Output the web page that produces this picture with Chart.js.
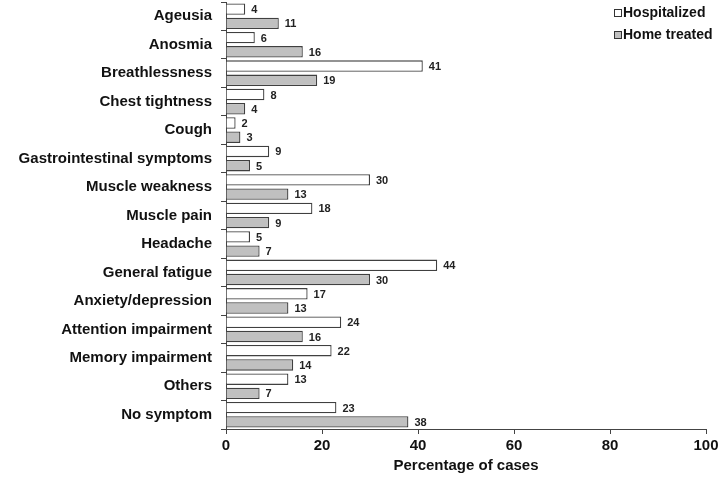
<!DOCTYPE html>
<html>
<head>
<meta charset="utf-8">
<script src="https://cdn.jsdelivr.net/npm/chart.js@4"></script>
<style>
  html, body { margin: 0; padding: 0; background: #fff; }
  #wrap { width: 722px; height: 483px; position: relative; }
</style>
</head>
<body>
<div id="wrap"><canvas id="symptomChart"></canvas></div>
<script>
// categories (top to bottom)
const symptoms = ["Ageusia", "Anosmia", "Breathlessness", "Chest tightness", "Cough",
  "Gastrointestinal symptoms", "Muscle weakness", "Muscle pain", "Headache",
  "General fatigue", "Anxiety/depression", "Attention impairment",
  "Memory impairment", "Others", "No symptom"];

// percentage of cases
const hospitalized = [4, 6, 41, 8, 2, 9, 30, 18, 5, 44, 17, 24, 22, 13, 23];
const homeTreated = [11, 16, 19, 4, 3, 5, 13, 9, 7, 30, 13, 16, 14, 7, 38];

const xTicks = [0, 20, 40, 60, 80, 100];

// value labels next to the bars
const valueLabels = {
    id: "valueLabels",
    afterDatasetsDraw(chart) {
        const ctx = chart.ctx;
        ctx.save();
        ctx.font = "bold 11px Arial";
        ctx.fillStyle = "#222";
        ctx.textAlign = "left";
        ctx.textBaseline = "middle";
        chart.data.datasets.forEach((ds, i) => {
            chart.getDatasetMeta(i).data.forEach((bar, j) => {
                ctx.fillText(ds.data[j], bar.x + 6, bar.y + 1);
            });
        });
        ctx.restore();
    }
};

// small square legend at the top right
const boxLegend = {
    id: "boxLegend",
    afterDraw(chart) {
        const ctx = chart.ctx;
        ctx.save();
        ctx.font = "bold 14px Arial";
        ctx.textBaseline = "middle";
        chart.data.datasets.forEach((ds, i) => {
            const y = 13 + i * 22;
            ctx.fillStyle = ds.backgroundColor;
            ctx.fillRect(614, y - 4, 8, 8);
            ctx.strokeStyle = "#333";
            ctx.lineWidth = 1;
            ctx.strokeRect(614.5, y - 3.5, 7, 7);
            ctx.fillStyle = "#111";
            ctx.fillText(ds.label, 623, y);
        });
        ctx.restore();
    }
};

const chartCtx = document.getElementById("symptomChart").getContext("2d");
const symptomChart = new Chart(chartCtx, {
    type: "bar",
    data: {
        labels: symptoms,
        datasets: [{
            label: "Hospitalized",
            data: hospitalized,
            backgroundColor: "#ffffff",
            borderColor: "#404040",
            borderWidth: 1.3,
        }, {
            label: "Home treated",
            data: homeTreated,
            backgroundColor: "#c0c0c0",
            borderColor: "#404040",
            borderWidth: 1.3,
        }],
    },
    options: {
        indexAxis: "y",
        responsive: true,
        maintainAspectRatio: false,
        animation: false,
        layout: { padding: { top: 2, right: 16, left: 0, bottom: 0 } },
        datasets: { bar: { categoryPercentage: 1, barPercentage: 0.8 } },
        plugins: {
            legend: { display: false },
            tooltip: { enabled: false },
        },
        scales: {
            x: {
                min: 0,
                max: 100,
                afterBuildTicks: (axis) => { axis.ticks = xTicks.map(v => ({ value: v })); },
                grid: { drawOnChartArea: false, tickLength: 5, color: "#444" },
                border: { color: "#444", width: 1 },
                ticks: { color: "#111", font: { family: "Arial", size: 15, weight: "bold" }, padding: 3 },
                title: {
                    display: true,
                    text: "Percentage of cases",
                    color: "#111",
                    font: { family: "Arial", size: 15, weight: "bold" },
                    padding: { top: 2, bottom: 8 },
                },
                afterFit: (axis) => { axis.height = 54; },
            },
            y: {
                offset: true,
                grid: { offset: true, drawOnChartArea: false, tickLength: 5, color: "#444" },
                border: { color: "#444", width: 1 },
                ticks: { color: "#111", font: { family: "Arial", size: 15, weight: "bold" }, padding: 9, autoSkip: false },
                afterFit: (axis) => {
                    axis.width = 226;
                    axis.paddingTop = 0;
                    axis.paddingBottom = 0;
                },
            },
        },
    },
    plugins: [valueLabels, boxLegend],
});
</script>
</body>
</html>
